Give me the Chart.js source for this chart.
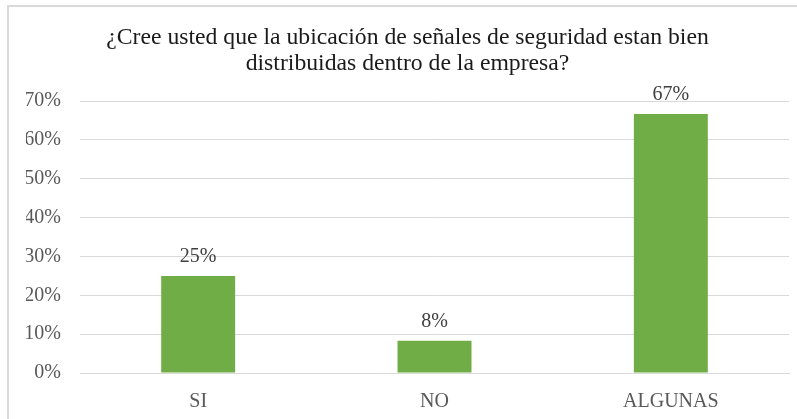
<!DOCTYPE html>
<html>
<head>
<meta charset="utf-8">
<script src="https://cdn.jsdelivr.net/npm/chart.js@4"></script>
<style>
html,body{margin:0;padding:0;background:#fff;}
#wrap{position:relative;width:797px;height:419px;}
</style>
</head>
<body>
<div id="wrap"><canvas id="c" width="797" height="419"></canvas></div>
<script>
const titleLines = ["¿Cree usted que la ubicación de señales de seguridad estan bien", "distribuidas dentro de la empresa?"];
const categories = ["SI", "NO", "ALGUNAS"];
const values = [25, 8.33, 66.67];
const valueLabels = ["25%", "8%", "67%"];
const yMin = 0, yMax = 70, yStep = 10;

const FONT = "'Liberation Serif', 'Times New Roman', serif";

const framePlugin = {
  id: 'frame',
  beforeDraw(chart) {
    const ctx = chart.ctx;
    ctx.save();
    ctx.strokeStyle = '#d9d9d9';
    ctx.lineWidth = 2;
    ctx.beginPath();
    ctx.moveTo(8, 419);
    ctx.lineTo(8, 6);
    ctx.lineTo(797, 6);
    ctx.stroke();
    ctx.restore();
  }
};

const labelPlugin = {
  id: 'valueLabels',
  afterDatasetsDraw(chart) {
    const ctx = chart.ctx;
    const meta = chart.getDatasetMeta(0);
    ctx.save();
    ctx.font = '20px ' + FONT;
    ctx.fillStyle = '#404040';
    ctx.textAlign = 'center';
    ctx.textBaseline = 'middle';
    meta.data.forEach((bar, i) => {
      ctx.fillText(valueLabels[i], bar.x, bar.y - 19);
    });
    ctx.restore();
  }
};

new Chart(document.getElementById('c'), {
  type: 'bar',
  data: {
    labels: categories,
    datasets: [{
      data: values,
      backgroundColor: '#70AD47',
      borderWidth: 0,
      barPercentage: 0.313,
      categoryPercentage: 1.0
    }]
  },
  options: {
    responsive: false,
    animation: false,
    devicePixelRatio: 1,
    layout: { padding: { left: 26, right: 8, top: 0, bottom: 8 } },
    plugins: {
      legend: { display: false },
      tooltip: { enabled: false },
      title: {
        display: true,
        text: titleLines,
        color: '#1a1a1a',
        font: { family: FONT, size: 23.7, weight: 'normal', lineHeight: 1.1 },
        padding: { top: 25, bottom: 24 }
      }
    },
    scales: {
      x: {
        afterFit(scale) { scale.height = 38; },
        grid: { display: false, drawTicks: false },
        border: { display: true, color: '#d9d9d9', width: 1 },
        ticks: { color: '#595959', font: { family: FONT, size: 20 }, padding: 17 }
      },
      y: {
        min: yMin, max: yMax,
        afterFit(scale) { scale.width = 54; },
        grid: { color: '#d9d9d9', lineWidth: 1, drawTicks: false },
        border: { display: false },
        ticks: {
          stepSize: yStep,
          color: '#595959',
          font: { family: FONT, size: 20 },
          padding: 19,
          callback: v => v + '%'
        }
      }
    }
  },
  plugins: [framePlugin, labelPlugin]
});
</script>
</body>
</html>
